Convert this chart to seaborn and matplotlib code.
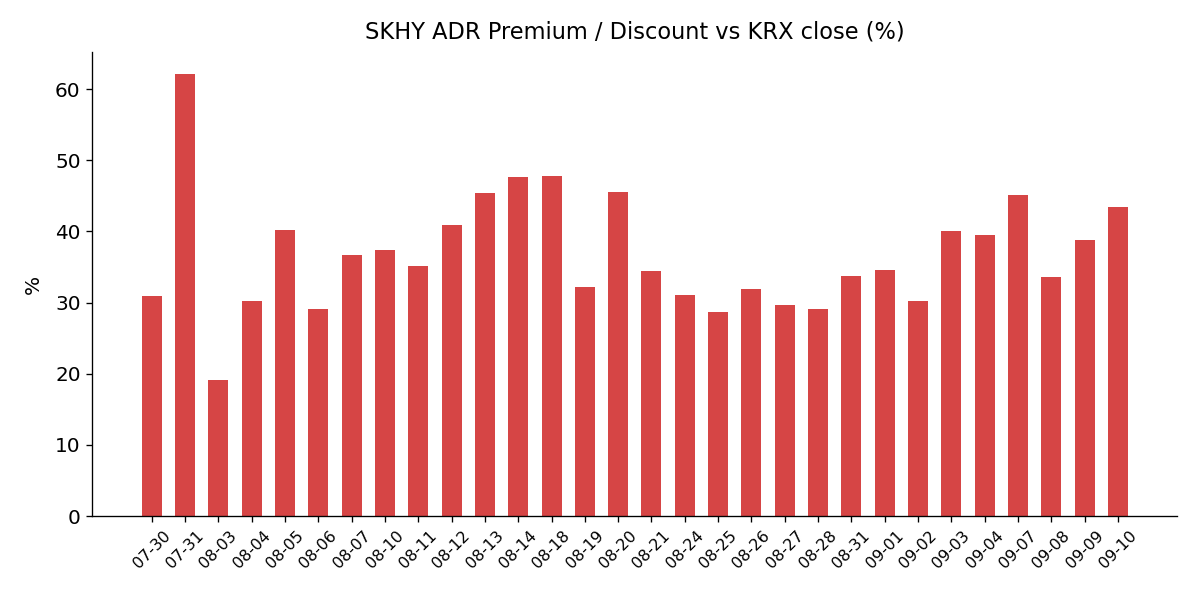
import pandas as pd
import matplotlib
matplotlib.use("Agg")
import matplotlib.pyplot as plt
import seaborn as sns

dates = ["07-30", "07-31", "08-03", "08-04", "08-05", "08-06", "08-07", "08-10",
         "08-11", "08-12", "08-13", "08-14", "08-18", "08-19", "08-20", "08-21",
         "08-24", "08-25", "08-26", "08-27", "08-28", "08-31", "09-01", "09-02",
         "09-03", "09-04", "09-07", "09-08", "09-09", "09-10"]
premium = [30.9, 62.1, 19.1, 30.2, 40.2, 29.1, 36.7, 37.4, 35.1, 40.9,
           45.4, 47.6, 47.8, 32.2, 45.5, 34.4, 31.1, 28.7, 31.9, 29.6,
           29.1, 33.7, 34.6, 30.2, 40.0, 39.5, 45.1, 33.6, 38.8, 43.4]

df = pd.DataFrame({"date": dates, "premium": premium})

plt.rcParams["font.family"] = ["DejaVu Sans"]

fig, ax = plt.subplots(figsize=(10, 5), dpi=120)
sns.barplot(x="date", y="premium", data=df, color="#d64545", width=0.6,
            saturation=1, linewidth=0, ax=ax)

# restore matplotlib's default padding around the bars
ax.set_autoscalex_on(True)
ax.margins(x=0.05, y=0.05)
ax.autoscale_view()

ax.set_title("SKHY ADR Premium / Discount vs KRX close (%)", fontsize=13.5, pad=8.5)
ax.set_xlabel("")
ax.set_ylabel("%", fontsize=12, labelpad=7.5)
ax.tick_params(axis="y", labelsize=12)
ax.tick_params(axis="x", labelrotation=45, labelsize=9.5)
sns.despine()
fig.subplots_adjust(left=0.077, right=0.981, top=0.913, bottom=0.14)
fig.savefig("out.png")
